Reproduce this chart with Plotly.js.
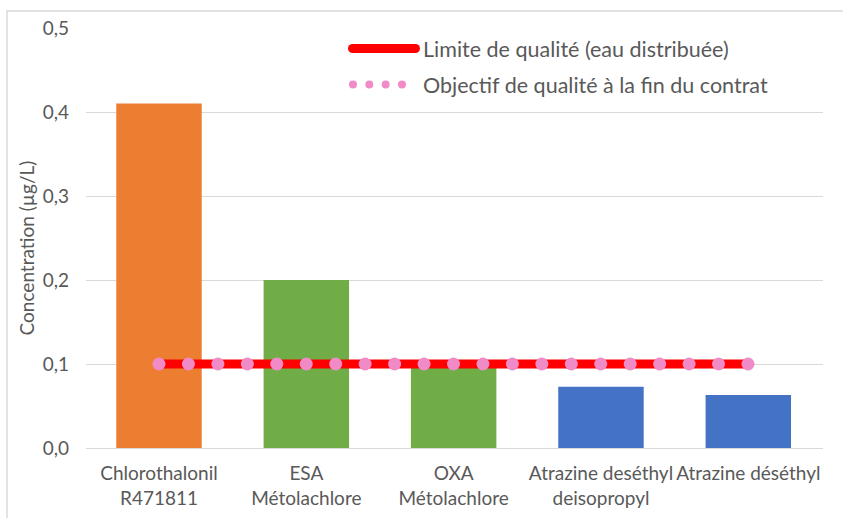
<!DOCTYPE html>
<html>
<head>
<meta charset="utf-8">
<script src="https://cdn.plot.ly/plotly-3.0.1.min.js"></script>
<style>
html, body { margin: 0; padding: 0; background: #fff; }
#chart { width: 843px; height: 518px; }
path.js-line { stroke-linecap: round; }
</style>
</head>
<body>
<div id="chart"></div>
<script>
// ---- data ----
var categories = [
  "Chlorothalonil<br>R471811",
  "ESA<br>Métolachlore",
  "OXA<br>Métolachlore",
  "Atrazine deséthyl<br>deisopropyl",
  "Atrazine déséthyl"
];
var concentrations = [0.41, 0.2, 0.1, 0.073, 0.063];
var barColors = ["#ED7D31", "#70AD47", "#70AD47", "#4472C4", "#4472C4"];
var limitName = "Limite de qualité (eau distribuée)";
var limitValues = [0.1, 0.1, 0.1, 0.1, 0.1];
var objectiveName = "Objectif de qualité à la fin du contrat";
var objectiveValues = [0.1, 0.1, 0.1, 0.1, 0.1];
var yTitle = "Concentration (µg/L)";

var FONT = "Lato, 'Open Sans', sans-serif";
var GREY = "#595959";

var traces = [
  {
    type: "bar",
    x: categories,
    y: concentrations,
    marker: { color: barColors },
    width: 0.58,
    showlegend: false,
    hoverinfo: "x+y"
  },
  {
    type: "scatter",
    mode: "lines",
    name: limitName,
    x: categories,
    y: limitValues,
    line: { color: "#FF0000", width: 9 },
    legendgroup: "a"
  },
  {
    type: "scatter",
    mode: "lines",
    name: objectiveName,
    x: categories,
    y: objectiveValues,
    line: { color: "#F08BC8", width: 13, dash: "0px,29.45px" },
    legendgroup: "b"
  }
];

var layout = {
  width: 843,
  height: 518,
  margin: { l: 86, r: 20, t: 28, b: 70, pad: 0 },
  paper_bgcolor: "#ffffff",
  plot_bgcolor: "#ffffff",
  separators: ", ",
  font: { family: FONT, color: GREY, size: 19 },
  xaxis: {
    type: "category",
    range: [-0.4955, 4.507],
    showgrid: false,
    showline: false,
    zeroline: false,
    ticks: "",
    ticklabelstandoff: 12,
    tickfont: { family: FONT, size: 19, color: GREY },
    fixedrange: true
  },
  yaxis: {
    range: [0, 0.5],
    dtick: 0.1,
    tick0: 0,
    tickformat: ".1f",
    showgrid: true,
    gridcolor: "#D9D9D9",
    gridwidth: 1,
    zeroline: true,
    zerolinecolor: "#D9D9D9",
    zerolinewidth: 1,
    showline: false,
    ticks: "",
    ticklabelstandoff: 16,
    tickfont: { family: FONT, size: 19, color: GREY },
    title: { text: yTitle, font: { family: FONT, size: 19, color: GREY }, standoff: 0 },
    fixedrange: true
  },
  showlegend: true,
  legend: {
    x: 0.346,
    xanchor: "left",
    y: 1.0,
    yanchor: "top",
    bgcolor: "rgba(0,0,0,0)",
    font: { family: FONT, size: 21.5, color: GREY },
    traceorder: "grouped",
    tracegroupgap: 5,
    itemwidth: 72
  },
  shapes: [
    {
      type: "rect",
      xref: "paper", yref: "paper",
      x0: -0.1072, x1: 1.1, y0: -0.3, y1: 1.0405,
      line: { color: "#D9D9D9", width: 1.5 },
      fillcolor: "rgba(0,0,0,0)",
      layer: "below"
    }
  ]
};

function setIf(p, d, w, dash) {
  if (p.getAttribute("d") !== d) p.setAttribute("d", d);
  if (p.style.strokeWidth !== w) p.style.strokeWidth = w;
  if (dash && p.style.strokeDasharray !== dash) p.style.strokeDasharray = dash;
}
function tweak() {
  var gd = document.getElementById("chart");
  var items = gd.querySelectorAll("g.legend g.traces");
  for (var i = 0; i < items.length; i++) {
    var paths = items[i].querySelectorAll("path.js-line");
    for (var k = 0; k < paths.length; k++) {
      if (i === 0) setIf(paths[k], "M11.5,0h63", "9px", null);
      else setIf(paths[k], "M12,0h49", "8px", "0px, 16.33px");
    }
  }
  var yt = gd.querySelector("g.g-ytitle");
  if (yt && yt.getAttribute("transform") !== "translate(-2,10)") yt.setAttribute("transform", "translate(-2,10)");
}

var obs = new MutationObserver(function () { tweak(); });
obs.observe(document.getElementById("chart"), { childList: true, subtree: true, attributes: true, attributeFilter: ["d", "style", "transform"] });

Plotly.newPlot("chart", traces, layout, { displayModeBar: false, staticPlot: true }).then(function (gd) {
  tweak();
  gd.on("plotly_afterplot", tweak);
});
var iv = setInterval(tweak, 30);
setTimeout(function () { clearInterval(iv); }, 3000);
</script>
</body>
</html>
